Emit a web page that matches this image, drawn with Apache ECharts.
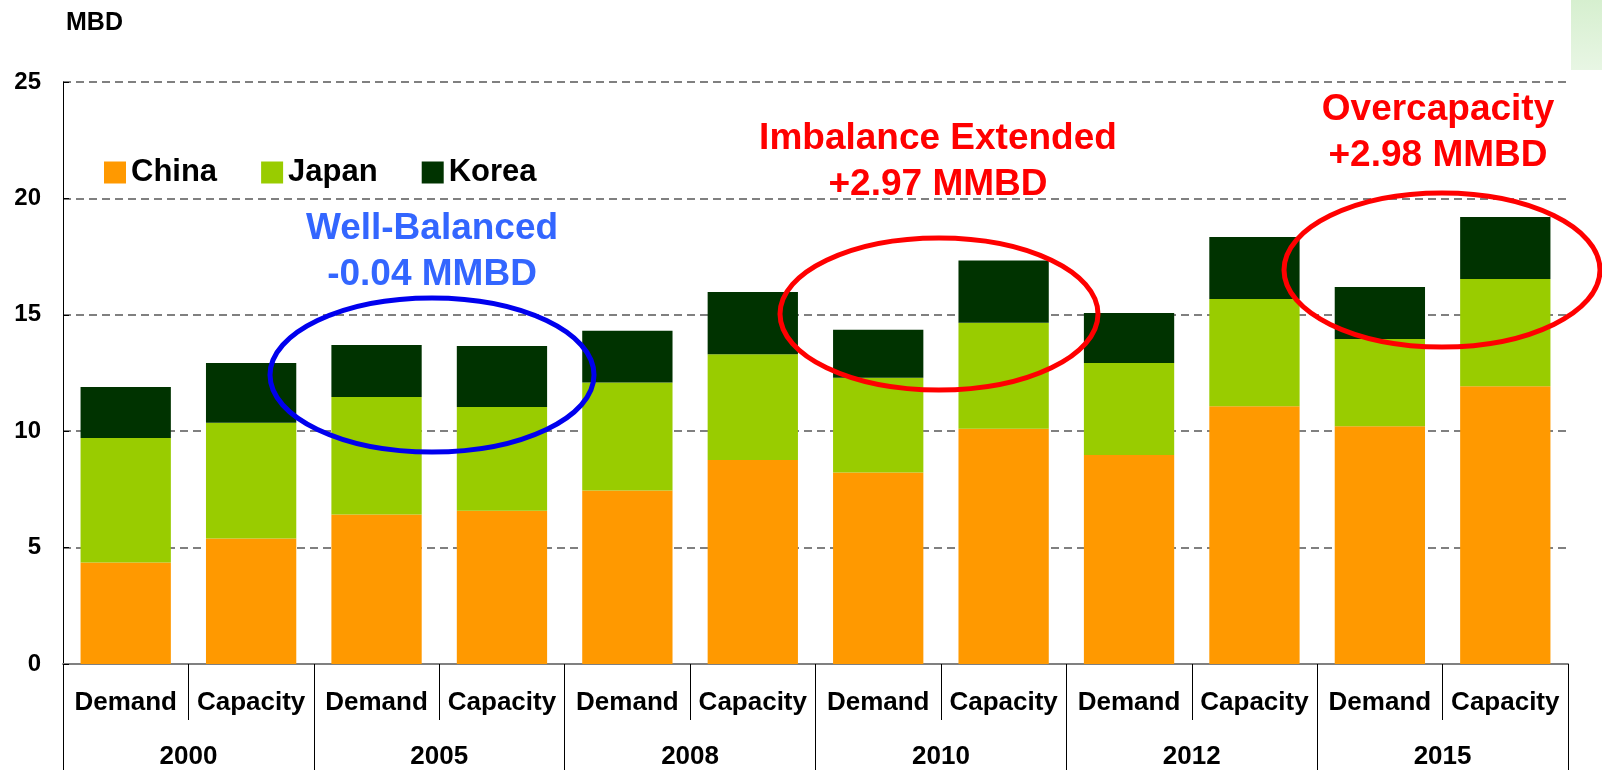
<!DOCTYPE html>
<html>
<head>
<meta charset="utf-8">
<style>
  html, body { margin: 0; padding: 0; background: #fff; }
  #main { width: 1602px; height: 770px; }
</style>
<script src="https://cdn.jsdelivr.net/npm/echarts@6/dist/echarts.min.js"></script>
</head>
<body>
<div id="main"></div>
<script>
// categories
var years = ['2000', '2005', '2008', '2010', '2012', '2015'];
var kinds = ['Demand', 'Capacity'];
var categories = [];
years.forEach(function (y) { kinds.forEach(function (k) { categories.push(k); }); });

// MBD, stacked
var china = [4.36, 5.39, 6.42, 6.58, 7.45, 8.76, 8.23, 10.10, 8.98, 11.07, 10.21, 11.93];
var japan = [5.35, 4.97, 5.05, 4.46, 4.64, 4.55, 4.07, 4.56, 3.95, 4.61, 3.75, 4.61];
var korea = [2.19, 2.57, 2.23, 2.62, 2.22, 2.67, 2.06, 2.67, 2.15, 2.66, 2.23, 2.66];

var FONT = 'Arial, "Liberation Sans", sans-serif';

var chartDom = document.getElementById('main');
var myChart = echarts.init(chartDom);
var option = {
  animation: false,
  textStyle: { fontFamily: FONT },
  grid: { left: 63, right: 34, top: 82, bottom: 106 },
  legend: {
    data: ['China', 'Japan', 'Korea'],
    left: 99,
    top: 152,
    icon: 'rect',
    itemWidth: 22,
    itemHeight: 22,
    itemGap: 44,
    textStyle: { fontSize: 31, fontWeight: 'bold', color: '#000', fontFamily: FONT }
  },
  xAxis: [{
    type: 'category',
    data: categories,
    axisLine: { lineStyle: { color: '#808080', width: 2 } },
    axisTick: { show: true, interval: 0, length: 56, lineStyle: { color: '#000', width: 1 } },
    axisLabel: { interval: 0, margin: 26, fontSize: 26, fontWeight: 'bold', color: '#000', fontFamily: FONT }
  }, {
    type: 'category',
    data: years,
    position: 'bottom',
    axisLine: { show: false },
    axisTick: { show: true, interval: 0, length: 106, lineStyle: { color: '#000', width: 1 } },
    axisLabel: { interval: 0, margin: 80, fontSize: 26, fontWeight: 'bold', color: '#000', fontFamily: FONT }
  }],
  yAxis: {
    type: 'value',
    min: 0,
    max: 25,
    interval: 5,
    name: 'MBD',
    nameLocation: 'end',
    nameGap: 46,
    nameTextStyle: { align: 'left', fontSize: 25, fontWeight: 'bold', color: '#000', fontFamily: FONT, padding: [0, 0, 0, 3] },
    axisLine: { show: true, lineStyle: { color: '#000', width: 1 } },
    axisTick: { show: true, inside: true, length: 6, lineStyle: { color: '#000' } },
    axisLabel: { margin: 22, fontSize: 24, fontWeight: 'bold', color: '#000', fontFamily: FONT },
    splitLine: { lineStyle: { color: '#808080', width: 2, type: [8, 5] } }
  },
  series: [
    { name: 'China', type: 'bar', stack: 'total', data: china, barCategoryGap: '28%', itemStyle: { color: '#FF9900' } },
    { name: 'Japan', type: 'bar', stack: 'total', data: japan, itemStyle: { color: '#99CC00' } },
    { name: 'Korea', type: 'bar', stack: 'total', data: korea, itemStyle: { color: '#003300' } }
  ],
  graphic: [
    {
      type: 'rect', left: 1571, top: 0, z: -1,
      shape: { width: 31, height: 70 },
      style: { fill: new echarts.graphic.LinearGradient(0, 0, 0, 1, [
        { offset: 0, color: '#d6efcf' }, { offset: 1, color: '#e8f6e4' }]) }
    },
    {
      type: 'ellipse', z: 100,
      shape: { cx: 432, cy: 375, rx: 162, ry: 77 },
      style: { fill: 'none', stroke: '#0000EE', lineWidth: 5 }
    },
    {
      type: 'ellipse', z: 100,
      shape: { cx: 939, cy: 314, rx: 159, ry: 76 },
      style: { fill: 'none', stroke: '#FF0000', lineWidth: 5 }
    },
    {
      type: 'ellipse', z: 100,
      shape: { cx: 1442, cy: 270, rx: 158, ry: 77 },
      style: { fill: 'none', stroke: '#FF0000', lineWidth: 5 }
    },
    {
      type: 'text', z: 100, x: 432, y: 252,
      style: { text: 'Well-Balanced\n-0.04 MMBD', align: 'center', verticalAlign: 'middle', lineHeight: 46,
        fontSize: 37, fontWeight: 'bold', fontFamily: FONT, fill: '#3366FF' }
    },
    {
      type: 'text', z: 100, x: 938, y: 162,
      style: { text: 'Imbalance Extended\n+2.97 MMBD', align: 'center', verticalAlign: 'middle', lineHeight: 46,
        fontSize: 37, fontWeight: 'bold', fontFamily: FONT, fill: '#FF0000' }
    },
    {
      type: 'text', z: 100, x: 1438, y: 133,
      style: { text: 'Overcapacity\n+2.98 MMBD', align: 'center', verticalAlign: 'middle', lineHeight: 46,
        fontSize: 37, fontWeight: 'bold', fontFamily: FONT, fill: '#FF0000' }
    }
  ]
};
myChart.setOption(option);
</script>
</body>
</html>
